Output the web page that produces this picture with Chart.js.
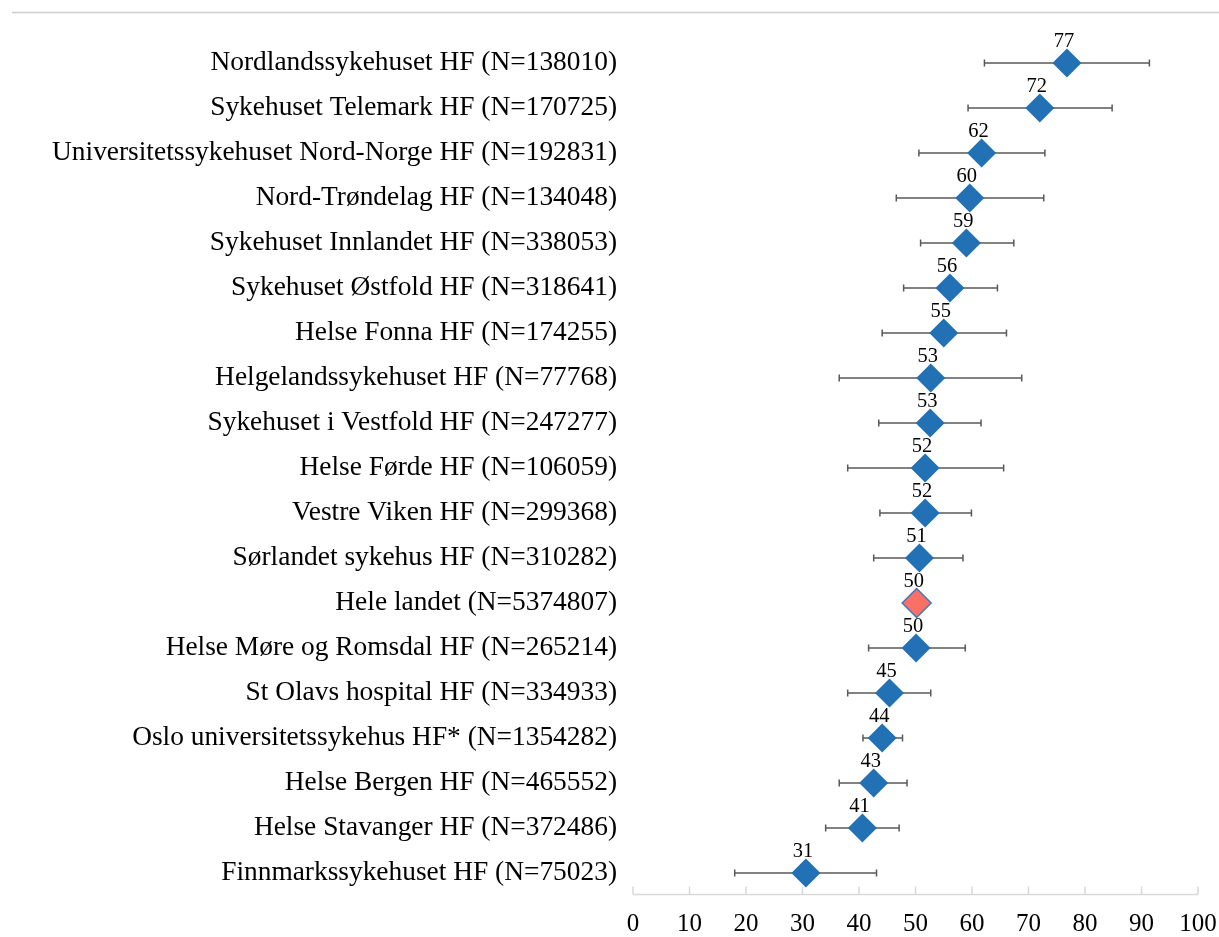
<!DOCTYPE html>
<html>
<head>
<meta charset="utf-8">
<script src="https://cdn.jsdelivr.net/npm/chart.js@4/dist/chart.umd.min.js"></script>
<style>
  html, body { margin: 0; padding: 0; background: #fff; }
  #wrap { width: 1219px; height: 937px; position: relative; }
</style>
</head>
<body>
<div id="wrap"><canvas id="plot"></canvas></div>
<script>
const categories = [
    'Nordlandssykehuset HF (N=138010)',
    'Sykehuset Telemark HF (N=170725)',
    'Universitetssykehuset Nord-Norge HF (N=192831)',
    'Nord-Trøndelag HF (N=134048)',
    'Sykehuset Innlandet HF (N=338053)',
    'Sykehuset Østfold HF (N=318641)',
    'Helse Fonna HF (N=174255)',
    'Helgelandssykehuset HF (N=77768)',
    'Sykehuset i Vestfold HF (N=247277)',
    'Helse Førde HF (N=106059)',
    'Vestre Viken HF (N=299368)',
    'Sørlandet sykehus HF (N=310282)',
    'Hele landet (N=5374807)',
    'Helse Møre og Romsdal HF (N=265214)',
    'St Olavs hospital HF (N=334933)',
    'Oslo universitetssykehus HF* (N=1354282)',
    'Helse Bergen HF (N=465552)',
    'Helse Stavanger HF (N=372486)',
    'Finnmarkssykehuset HF (N=75023)'
];
const rates = [76.8, 72.0, 61.7, 59.6, 59.0, 56.1, 55.0, 52.7, 52.6, 51.7, 51.7, 50.7, 50.2, 50.1, 45.4, 44.1, 42.6, 40.6, 30.6];
const lower = [62.2, 59.3, 50.6, 46.6, 50.9, 47.9, 44.1, 36.5, 43.5, 38.0, 43.7, 42.6, null, 41.7, 38.0, 40.7, 36.5, 34.1, 18.0];
const upper = [91.4, 84.8, 72.9, 72.7, 67.4, 64.5, 66.1, 68.8, 61.6, 65.6, 59.9, 58.4, null, 58.8, 52.7, 47.7, 48.5, 47.1, 43.1];
const xTicks = [0, 10, 20, 30, 40, 50, 60, 70, 80, 90, 100];
const nationalLabel = 'Hele landet (N=5374807)';

const serif = '"Liberation Serif", "Times New Roman", serif';
const blue = '#2271B5';

// error bars behind the diamonds, value labels above, custom axis with inward ticks
const extras = {
    id: 'extras',
    beforeDraw(chart) {
        const ctx = chart.ctx;
        ctx.save();
        ctx.fillStyle = '#fff';
        ctx.fillRect(0, 0, chart.width, chart.height);
        ctx.strokeStyle = '#cccccc';
        ctx.lineWidth = 1.5;
        ctx.beginPath();
        ctx.moveTo(12, 12.5);
        ctx.lineTo(chart.width, 12.5);
        ctx.stroke();
        ctx.restore();
    },
    beforeDatasetsDraw(chart) {
        const ctx = chart.ctx;
        const x = chart.scales.x, y = chart.scales.y;
        ctx.save();
        // x axis line and ticks pointing up
        const ay = chart.chartArea.bottom - 1;
        ctx.strokeStyle = '#d9d9d9';
        ctx.lineWidth = 1.5;
        ctx.beginPath();
        ctx.moveTo(x.getPixelForValue(0), ay);
        ctx.lineTo(x.getPixelForValue(100), ay);
        xTicks.forEach(t => {
            const px = x.getPixelForValue(t);
            ctx.moveTo(px, ay);
            ctx.lineTo(px, ay - 8);
        });
        ctx.stroke();

        ctx.strokeStyle = '#595959';
        ctx.lineWidth = 1.5;
        rates.forEach((v, i) => {
            if (lower[i] == null) return;
            const py = y.getPixelForValue(i);
            const x1 = x.getPixelForValue(lower[i]);
            const x2 = x.getPixelForValue(upper[i]);
            ctx.beginPath();
            ctx.moveTo(x1, py); ctx.lineTo(x2, py);
            ctx.moveTo(x1, py - 3.5); ctx.lineTo(x1, py + 3.5);
            ctx.moveTo(x2, py - 3.5); ctx.lineTo(x2, py + 3.5);
            ctx.stroke();
        });
        ctx.restore();
    },
    afterDatasetsDraw(chart) {
        const ctx = chart.ctx;
        const x = chart.scales.x, y = chart.scales.y;
        ctx.save();
        ctx.fillStyle = '#000';
        ctx.font = '20.5px ' + serif;
        ctx.textAlign = 'center';
        ctx.textBaseline = 'alphabetic';
        rates.forEach((v, i) => {
            ctx.fillText(String(Math.round(v)), x.getPixelForValue(v) - 3, y.getPixelForValue(i) - 16.5);
        });
        ctx.restore();
    }
};

new Chart(document.getElementById('plot'), {
    type: 'line',
    data: {
        labels: categories,
        datasets: [{
            data: rates,
            showLine: false,
            pointStyle: 'rectRot',
            pointRadius: 14.5,
            pointHoverRadius: 14.5,
            pointBackgroundColor: categories.map(c => c === nationalLabel ? '#FA7064' : blue),
            pointBorderColor: categories.map(c => c === nationalLabel ? '#3E78C0' : blue),
            pointBorderWidth: categories.map(c => c === nationalLabel ? 1.5 : 0)
        }]
    },
    options: {
        indexAxis: 'y',
        responsive: true,
        maintainAspectRatio: false,
        animation: false,
        events: [],
        layout: { padding: { top: 40.5, right: 21, left: 0, bottom: 0 } },
        plugins: { legend: { display: false }, tooltip: { enabled: false } },
        scales: {
            x: {
                type: 'linear',
                min: 0,
                max: 100,
                afterFit(scale) {
                    scale.height = 41.5;
                    scale.paddingRight = 0;
                    scale.paddingLeft = 0;
                },
                grid: { display: false, drawTicks: false },
                border: { display: false },
                ticks: {
                    stepSize: 10,
                    padding: 14,
                    color: '#000',
                    font: { family: serif, size: 25 }
                }
            },
            y: {
                type: 'category',
                offset: true,
                afterFit(scale) { scale.width = 633; },
                grid: { display: false, drawTicks: false },
                border: { display: false },
                ticks: {
                    padding: 16,
                    color: '#000',
                    font: { family: serif, size: 27.4 }
                }
            }
        }
    },
    plugins: [extras]
});
</script>
</body>
</html>
